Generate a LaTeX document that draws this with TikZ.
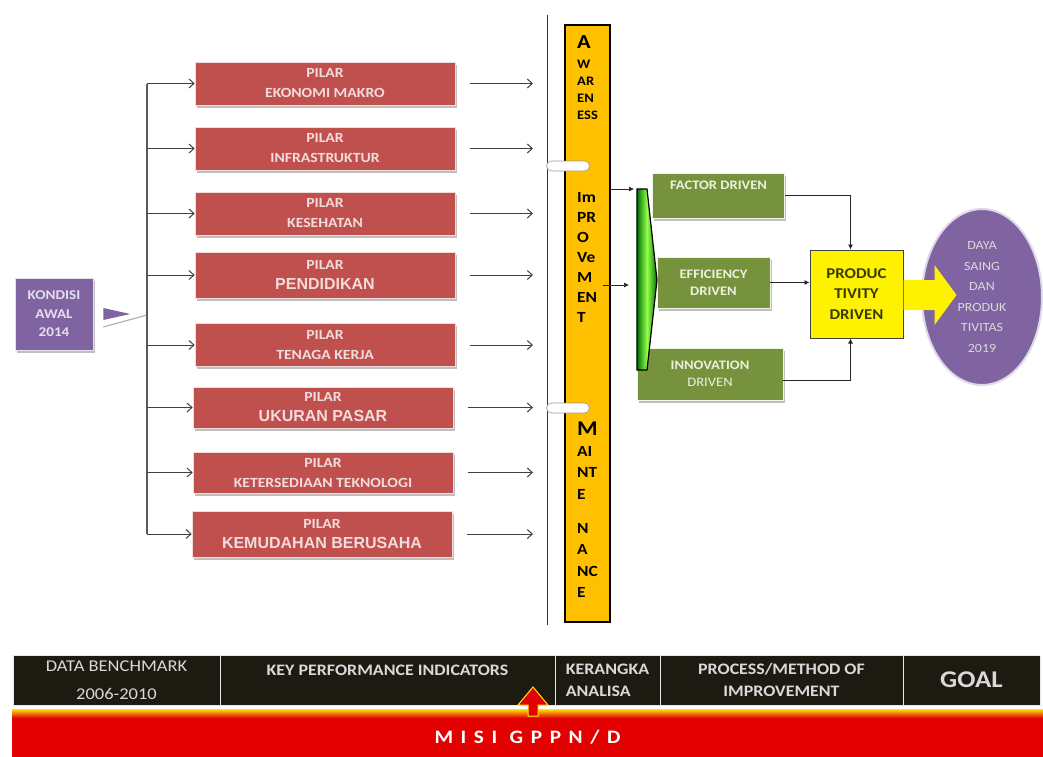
\documentclass[tikz,border=0pt]{standalone}
\usepackage{fontspec}
\setmainfont{Carlito}[FakeStretch=1.12]
\newfontfamily\arialfont{Liberation Sans}
\usepackage{xcolor}
\usepackage{tikz}
\usetikzlibrary{arrows.meta, positioning, shapes.geometric, shadows}

\definecolor{pilarred}{HTML}{C0504D}
\definecolor{pilarink}{HTML}{F2DCDB}
\definecolor{ungu}{HTML}{8064A2}
\definecolor{unguink}{HTML}{E4DFEC}
\definecolor{hijau}{HTML}{76923C}
\definecolor{hijauink}{HTML}{EBF1DE}
\definecolor{oranye}{HTML}{FFC000}
\definecolor{hitam}{HTML}{1D1B11}
\definecolor{abu}{HTML}{D9D9D9}
\definecolor{merah}{HTML}{E20000}
\definecolor{zaitun}{HTML}{3A3A00}

\tikzset{
  pilar/.style={rectangle, fill=pilarred, draw=pilarink, line width=0.6pt,
    minimum width=260pt, minimum height=43pt, align=center, text=pilarink,
    font=\bfseries\fontsize{14}{20}\selectfont, inner sep=1pt,
    drop shadow={shadow xshift=1.5pt, shadow yshift=-2.5pt, fill=black!50, opacity=0.5}},
  kondisibox/.style={rectangle, fill=ungu, draw=unguink, line width=0.6pt,
    minimum width=78pt, minimum height=72pt, align=center, text=unguink,
    font=\bfseries\fontsize{13.5}{18.5}\selectfont,
    drop shadow={shadow xshift=2pt, shadow yshift=-3pt, fill=black!50, opacity=0.5}},
  driver/.style={rectangle, fill=hijau, draw=hijauink!80, line width=0.6pt,
    align=center, text=hijauink, font=\bfseries\fontsize{13}{17}\selectfont,
    drop shadow={shadow xshift=1.5pt, shadow yshift=-2.5pt, fill=black!50, opacity=0.5}},
  prodbox/.style={rectangle, fill=yellow, draw=black!75, line width=1pt,
    minimum width=93pt, minimum height=88pt, align=center, text=zaitun,
    font=\bfseries\fontsize{15}{20.5}\selectfont},
  goal/.style={ellipse, fill=ungu, draw=ungu!25, line width=2pt,
    minimum width=120pt, minimum height=176pt, align=center, text=abu,
    font=\fontsize{12.5}{20.5}\selectfont, inner sep=0pt},
  bartext/.style={anchor=north west, align=left, inner sep=0pt, text=black},
  pill/.style={rectangle, rounded corners=5pt, fill=white, draw=black!40,
    line width=0.6pt, minimum width=43pt, minimum height=10pt, inner sep=0pt},
  headcell/.style={rectangle, fill=hitam, draw=abu!60, line width=0.6pt,
    minimum height=50pt, align=center, text=abu, inner sep=0pt,
    font=\bfseries\fontsize{16}{22}\selectfont},
  arrowline/.style={-{Straight Barb[length=5pt, width=9pt]}, line width=1pt, black!75},
  busline/.style={line width=1.6pt, black!65},
  feedline/.style={-{Latex[length=5pt, width=5pt]}, line width=0.7pt, black!85}
}
\newcommand{\pilarkecil}[1]{PILAR\\#1}
\newcommand{\pilarbesar}[1]{PILAR\\{\arialfont\fontsize{16}{20}\selectfont #1}}

\begin{document}
\begin{tikzpicture}[x=1pt, y=-1pt]
  \useasboundingbox (0,0) rectangle (1043,756);

  % kondisi awal dan pilar
  \node[kondisibox] (kondisi) at (54,314) {KONDISI\\AWAL\\2014};
  \coordinate (bus) at (147,315);
  \node[pilar] (p1) at (325,83.5) {\pilarkecil{EKONOMI MAKRO}};
  \node[pilar] (p2) at (325,148.5) {\pilarkecil{INFRASTRUKTUR}};
  \node[pilar] (p3) at (325,213.5) {\pilarkecil{KESEHATAN}};
  \node[pilar, minimum height=46pt] (p4) at (325,275) {\pilarbesar{PENDIDIKAN}};
  \node[pilar] (p5) at (325,345) {\pilarkecil{TENAGA KERJA}};
  \node[pilar, minimum height=41pt] (p6) at (323,407.5) {\pilarbesar{UKURAN PASAR}};
  \node[pilar, minimum height=41pt] (p7) at (323,472.5) {\pilarkecil{KETERSEDIAAN TEKNOLOGI}};
  \node[pilar, minimum height=46pt] (p8) at (322,534) {\pilarbesar{KEMUDAHAN BERUSAHA}};

  \fill[ungu] ([xshift=10pt, yshift=6pt]kondisi.east) -- ++(27,6) -- ++(-27,6) -- cycle;
  \draw[black!30, line width=1.2pt] ([xshift=10pt, yshift=-13pt]kondisi.east) -- (bus);
  \draw[busline] (bus |- p1) -- (bus |- p8);
  \draw[arrowline] (bus |- p1) -- (p1.west);
  \draw[arrowline] (bus |- p2) -- (p2.west);
  \draw[arrowline] (bus |- p3) -- (p3.west);
  \draw[arrowline] (bus |- p4) -- (p4.west);
  \draw[arrowline] (bus |- p5) -- (p5.west);
  \draw[arrowline] (bus |- p6) -- (p6.west);
  \draw[arrowline] (bus |- p7) -- (p7.west);
  \draw[arrowline] (bus |- p8) -- (p8.west);

  % batang awareness / improvement / maintenance
  \coordinate (masuk) at (533,0);
  \draw[black!80, line width=0.8pt] (547,15) -- (547,625);
  \node[rectangle, fill=oranye, draw=black, line width=1.6pt, minimum width=45pt,
    minimum height=597pt, inner sep=0pt] (bar) at (587.5,323.5) {};
  \node[pill] (pill1) at (568,166) {};
  \node[pill] (pill2) at (568,408) {};
  \node[bartext, font=\bfseries\fontsize{13}{17}\selectfont] (aware) at (577,35.5)
    {{\fontsize{20}{20}\selectfont A}\\[3pt]W\\AR\\EN\\ESS};
  \node[bartext, font=\bfseries\fontsize{15.5}{20}\selectfont] (improve) at (577,192)
    {Im\\PR\\O\\Ve\\M\\EN\\T};
  \node[bartext, font=\bfseries\fontsize{15.5}{21.3}\selectfont] (maint) at (577,421.5)
    {{\fontsize{21}{21}\selectfont M}\\AI\\NT\\E\\[13pt]N\\A\\NC\\E};

  \draw[arrowline] ([xshift=15pt]p1.east) -- (p1 -| masuk);
  \draw[arrowline] ([xshift=15pt]p2.east) -- (p2 -| masuk);
  \draw[arrowline] ([xshift=15pt]p3.east) -- (p3 -| masuk);
  \draw[arrowline] ([xshift=15pt]p4.east) -- (p4 -| masuk);
  \draw[arrowline] ([xshift=15pt]p5.east) -- (p5 -| masuk);
  \draw[arrowline] ([xshift=15pt]p6.east) -- (p6 -| masuk);
  \draw[arrowline] ([xshift=15pt]p7.east) -- (p7 -| masuk);
  \draw[arrowline] ([xshift=15pt]p8.east) -- (p8 -| masuk);

  % corong dan tiga driver
  \node[driver, minimum width=132pt, minimum height=45pt, text depth=21pt] (factor) at (718.5,195.5) {FACTOR DRIVEN};
  \node[driver, minimum width=113pt, minimum height=51pt] (effic) at (713.5,282.5) {EFFICIENCY\\DRIVEN};
  \node[driver, minimum width=146pt, minimum height=52pt] (innov) at (710,374) {INNOVATION\\{\mdseries DRIVEN}};
  \shade[left color=green!45!black, right color=green!45!black, middle color=green!60!yellow!70]
    (637,189) -- (647,189) -- (657,280) -- (647,370) -- (637,370) -- cycle;
  \draw[black, line width=1.2pt] (637,189) -- (647,189) -- (657,280) -- (647,370) -- (637,370) -- cycle;
  \coordinate (corong1) at (634,189);
  \coordinate (corong2) at (629,285);
  \draw[feedline] (corong1 -| bar.east) -- (corong1);
  \draw[feedline] ([xshift=-8pt]corong2 -| bar.east) -- (corong2);

  % productivity dan tujuan
  \node[prodbox] (prod) at (856.5,294) {PRODUC\\TIVITY\\DRIVEN};
  \draw[feedline] (factor.east) -| ([xshift=-6pt]prod.north);
  \draw[feedline] (effic.east) -- (effic.east -| prod.west);
  \draw[feedline] ([yshift=-6pt]innov.east) -| ([xshift=-6pt]prod.south);
  \node[goal] (tujuan) at (982,297) {DAYA\\SAING\\DAN\\PRODUK\\TIVITAS\\2019};
  \fill[yellow] ([yshift=14pt]prod.east) -- ++(31,0) -- ++(0,-15) -- ++(22,30)
    -- ++(-22,30) -- ++(0,-15) -- ++(-31,0) -- cycle;

  % kerangka bawah
  \node[headcell, minimum width=207pt, font=\fontsize{16.5}{28}\selectfont] (hdata) at (116.5,680) {DATA BENCHMARK\\2006-2010};
  \node[headcell, minimum width=335pt, text depth=19pt] (hkpi) at (387.5,680) {KEY PERFORMANCE INDICATORS};
  \node[headcell, minimum width=105pt, align=left] (hkerangka) at (607.5,680) {KERANGKA\\ANALISA};
  \node[headcell, minimum width=243pt] (hproses) at (781.5,680) {PROCESS/METHOD OF\\IMPROVEMENT};
  \node[headcell, minimum width=137pt, font=\bfseries\fontsize{24}{24}\selectfont] (hgoal) at (971.5,680) {GOAL};
  \shade[top color=yellow!80!orange, bottom color=merah] (12,709) rectangle (1043,718);
  \node[rectangle, fill=merah, minimum width=1031pt, minimum height=39pt, inner sep=0pt,
    text=white, font=\bfseries\fontsize{19}{19}\selectfont\addfontfeature{LetterSpace=40}]
    (misi) at (527.5,737) {MISI GPPN/D};
  \coordinate (kpipanah) at (533,687);
  \filldraw[fill=merah, draw=yellow!90!orange, line width=1pt] (kpipanah) -- ++(15,18) -- ++(-10,0)
    -- ++(0,11) -- ++(-10,0) -- ++(0,-11) -- ++(-10,0) -- cycle;
\end{tikzpicture}
\end{document}
